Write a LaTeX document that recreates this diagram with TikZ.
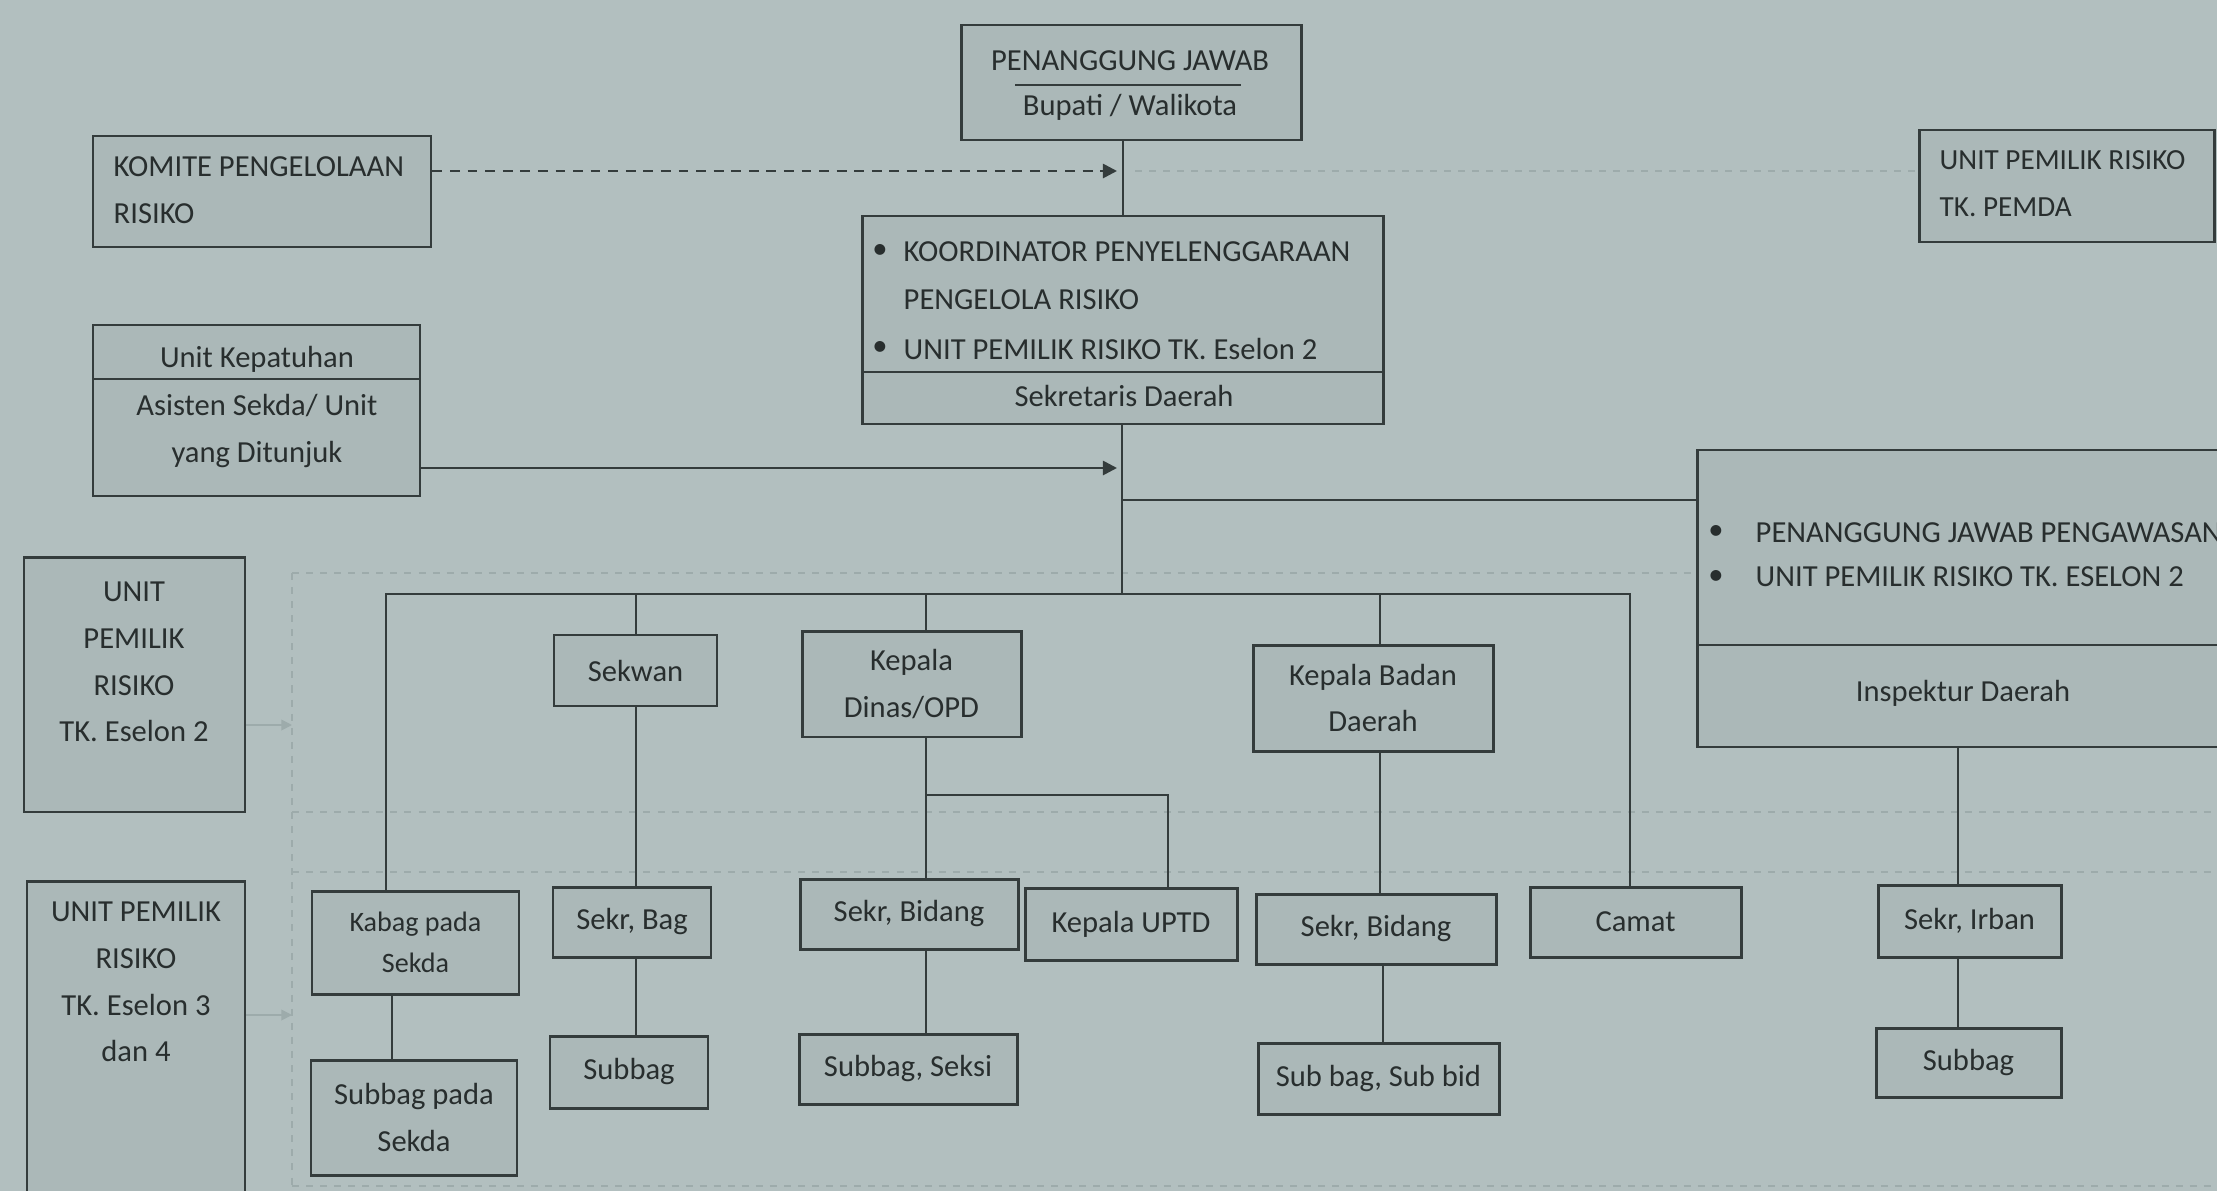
\documentclass[tikz,border=0pt]{standalone}
\usepackage{fontspec}
\setmainfont{Carlito}
\usetikzlibrary{arrows.meta}
\definecolor{bgc}{RGB}{178,191,191}
\definecolor{boxc}{RGB}{171,184,184}
\definecolor{linec}{RGB}{52,60,60}
\definecolor{txtc}{RGB}{40,46,46}
\definecolor{faintc}{RGB}{157,171,171}
\tikzset{
  bx/.style={draw=linec, line width=0.85pt, fill=boxc, inner sep=0pt, align=center,
    text=txtc, font=\fontsize{8.7}{13.3}\selectfont},
  tx/.style={inner sep=0pt, text=txtc, font=\fontsize{8.7}{13.3}\selectfont},
  ln/.style={draw=linec, line width=0.75pt},
  faint/.style={draw=faintc, line width=0.6pt, dash pattern=on 2pt off 2pt},
  arr/.style={-{Triangle[length=4pt,width=4pt]}},
}
\begin{document}
\begin{tikzpicture}[x=0.1mm,y=-0.1mm]
\useasboundingbox (0,0) rectangle (2217,1191);
\clip (0,0) rectangle (2217,1191);
\fill[bgc] (0,0) rectangle (2217,1191);

% faint dashed frame
\coordinate (f1) at (292,573);
\coordinate (f2) at (1697,573);
\coordinate (f3) at (292,812);
\coordinate (f4) at (2217,812);
\coordinate (f5) at (292,872);
\coordinate (f6) at (2217,872);
\coordinate (f7) at (292,1186);
\coordinate (f8) at (2217,1186);
\draw[faint] (f1) -- (f2);
\draw[faint] (f3) -- (f4);
\draw[faint] (f5) -- (f6);
\draw[faint] (f7) -- (f8);
\draw[faint] (f1) -- (f7);

% boxes
\node[bx, minimum width=34.0mm, minimum height=11.5mm] (pj) at (1131,82.5) {};
\node[tx] (pjt1) at (1130,61) {PENANGGUNG JAWAB};
\node[tx] (pjt2) at (1130,107) {Bupati / Walikota};
\coordinate (pjl1) at (1015,85);
\coordinate (pjl2) at (1241,85);
\draw[ln] (pjl1) -- (pjl2);

\node[bx, minimum width=33.8mm, minimum height=11.1mm] (komite) at (262,191.5) {};
\node[tx, anchor=west, align=left] (komt) at (113,190) {KOMITE PENGELOLAAN\\RISIKO};

\node[bx, minimum width=29.5mm, minimum height=11.2mm] (pemda) at (2066.5,186) {};
\node[tx, anchor=west, align=left, font=\fontsize{8.3}{13.3}\selectfont] (pemt) at (1939,184) {UNIT PEMILIK RISIKO\\TK. PEMDA};

\node[bx, minimum width=52.1mm, minimum height=20.8mm] (koord) at (1122.5,320) {};
\coordinate (kd1) at (862,372);
\coordinate (kd2) at (1383,372);
\draw[ln] (kd1) -- (kd2);
\node[tx] (kb1) at (880,252) {•};
\node[tx, anchor=west] (kt1) at (903,252) {KOORDINATOR PENYELENGGARAAN};
\node[tx, anchor=west] (kt2) at (903,300) {PENGELOLA RISIKO};
\node[tx] (kb2) at (880,349) {•};
\node[tx, anchor=west] (kt3) at (903,349) {UNIT PEMILIK RISIKO TK. Eselon 2};
\node[tx] (kt4) at (1124,396) {Sekretaris Daerah};

\node[bx, minimum width=32.7mm, minimum height=17.1mm] (kep) at (256.5,410.5) {};
\coordinate (kp1) at (93,379);
\coordinate (kp2) at (420,379);
\draw[ln] (kp1) -- (kp2);
\node[tx] (kpt1) at (257,359) {Unit Kepatuhan};
\node[tx, align=center] (kpt2) at (257,431) {Asisten Sekda/ Unit\\yang Ditunjuk};

\node[bx, minimum width=54.3mm, minimum height=29.7mm] (insp) at (1968.5,598.5) {};
\coordinate (in1) at (1697,645);
\coordinate (in2) at (2240,645);
\draw[ln] (in1) -- (in2);
\node[tx] (ib1) at (1716,533) {•};
\node[tx, anchor=west] (it1) at (1755,533) {PENANGGUNG JAWAB PENGAWASAN};
\node[tx] (ib2) at (1716,577) {•};
\node[tx, anchor=west] (it2) at (1755,577) {UNIT PEMILIK RISIKO TK. ESELON 2};
\node[tx] (it3) at (1963,693) {Inspektur Daerah};

\node[bx, minimum width=22.1mm, minimum height=25.5mm] (es2) at (134.5,684.5) {};
\node[tx, align=center] (es2t) at (134,662) {UNIT\\PEMILIK\\RISIKO\\TK. Eselon 2};

\node[bx, minimum width=21.8mm, minimum height=33.4mm] (es34) at (136,1048) {};
\node[tx, align=center] (es34t) at (136,982) {UNIT PEMILIK\\RISIKO\\TK. Eselon 3\\dan 4};

\node[bx, minimum width=16.3mm, minimum height=7.1mm] (sekwan) at (635.5,670.5) {Sekwan};
\node[bx, minimum width=21.9mm, minimum height=10.6mm] (kadinas) at (911.5,684) {Kepala\\Dinas/OPD};
\node[bx, minimum width=24.0mm, minimum height=10.6mm] (kabadan) at (1373,698) {Kepala Badan\\Daerah};
\node[bx, minimum width=21.1mm, minimum height=7.0mm] (camat) at (1635.5,922) {Camat};
\node[bx, minimum width=20.7mm, minimum height=10.3mm, font=\fontsize{8}{11.5}\selectfont] (kabag) at (415.5,942.5) {Kabag pada\\Sekda};
\node[bx, minimum width=20.6mm, minimum height=11.5mm] (subsekda) at (414,1117.5) {Subbag pada\\Sekda};
\node[bx, minimum width=15.8mm, minimum height=7.0mm] (sekrbag) at (632,922) {Sekr, Bag};
\node[bx, minimum width=15.8mm, minimum height=7.2mm] (subbag1) at (629,1072) {Subbag};
\node[bx, minimum width=21.8mm, minimum height=7.0mm] (sekrbid1) at (909,914) {Sekr, Bidang};
\node[bx, minimum width=21.2mm, minimum height=7.2mm] (uptd) at (1131,924) {Kepala UPTD};
\node[bx, minimum width=21.8mm, minimum height=7.0mm] (subseksi) at (908,1069) {Subbag, Seksi};
\node[bx, minimum width=24.0mm, minimum height=7.0mm] (sekrbid2) at (1376,929) {Sekr, Bidang};
\node[bx, minimum width=24.1mm, minimum height=7.1mm] (subbid) at (1378.5,1078.5) {Sub bag, Sub bid};
\node[bx, minimum width=18.3mm, minimum height=7.2mm] (sekrirban) at (1969.5,921) {Sekr, Irban};
\node[bx, minimum width=18.5mm, minimum height=6.9mm] (subbag3) at (1968.5,1062.5) {Subbag};

% connectors
\coordinate (xmain) at (1123,0);
\draw[ln] (pj.south -| xmain) -- (koord.north -| xmain);

\coordinate (komy) at (0,171);
\coordinate (dashend) at (1117,171);
\draw[ln, dash pattern=on 2.8pt off 2.2pt, arr] (komite.east |- komy) -- (dashend);
\coordinate (dashcont) at (1135,171);
\draw[faint] (dashcont) -- (pemda.west |- komy);

\coordinate (kepy) at (0,468);
\coordinate (kepend) at (1117,468);
\draw[ln, arr] (kep.east |- kepy) -- (kepend);

\coordinate (bus) at (1122,594);
\coordinate (br) at (1122,500);
\draw[ln] (koord.south -| bus) -- (bus);
\draw[ln] (br) -- (insp.west |- br);

\coordinate (busL) at (386,594);
\coordinate (busR) at (1630,594);
\draw[ln] (kabag.north -| busL) -- (busL) -- (busR) -- (camat.north -| busR);

\coordinate (xsw) at (636,0);
\coordinate (xkd) at (926,0);
\coordinate (xkb) at (1380,0);
\coordinate (xkb2) at (1383,0);
\coordinate (xup) at (1168,0);
\coordinate (xkg) at (392,0);
\coordinate (xin) at (1958,0);
\coordinate (upy) at (0,795);

\draw[ln] (busL -| xsw) -- (sekwan.north -| xsw);
\draw[ln] (sekwan.south -| xsw) -- (sekrbag.north -| xsw);
\draw[ln] (sekrbag.south -| xsw) -- (subbag1.north -| xsw);

\draw[ln] (busL -| xkd) -- (kadinas.north -| xkd);
\draw[ln] (kadinas.south -| xkd) -- (sekrbid1.north -| xkd);
\draw[ln] (upy -| xkd) -- (upy -| xup) -- (uptd.north -| xup);
\draw[ln] (sekrbid1.south -| xkd) -- (subseksi.north -| xkd);

\draw[ln] (busL -| xkb) -- (kabadan.north -| xkb);
\draw[ln] (kabadan.south -| xkb) -- (sekrbid2.north -| xkb);
\draw[ln] (sekrbid2.south -| xkb2) -- (subbid.north -| xkb2);

\draw[ln] (kabag.south -| xkg) -- (subsekda.north -| xkg);

\draw[ln] (insp.south -| xin) -- (sekrirban.north -| xin);
\draw[ln] (sekrirban.south -| xin) -- (subbag3.north -| xin);

% faint arrows from left units
\coordinate (fa1) at (292,725);
\coordinate (fa2) at (292,1015);
\draw[faintc, line width=0.5pt, -{Triangle[length=3pt,width=3pt]}] (es2.east |- fa1) -- (fa1);
\draw[faintc, line width=0.5pt, -{Triangle[length=3pt,width=3pt]}] (es34.east |- fa2) -- (fa2);
\end{tikzpicture}
\end{document}
